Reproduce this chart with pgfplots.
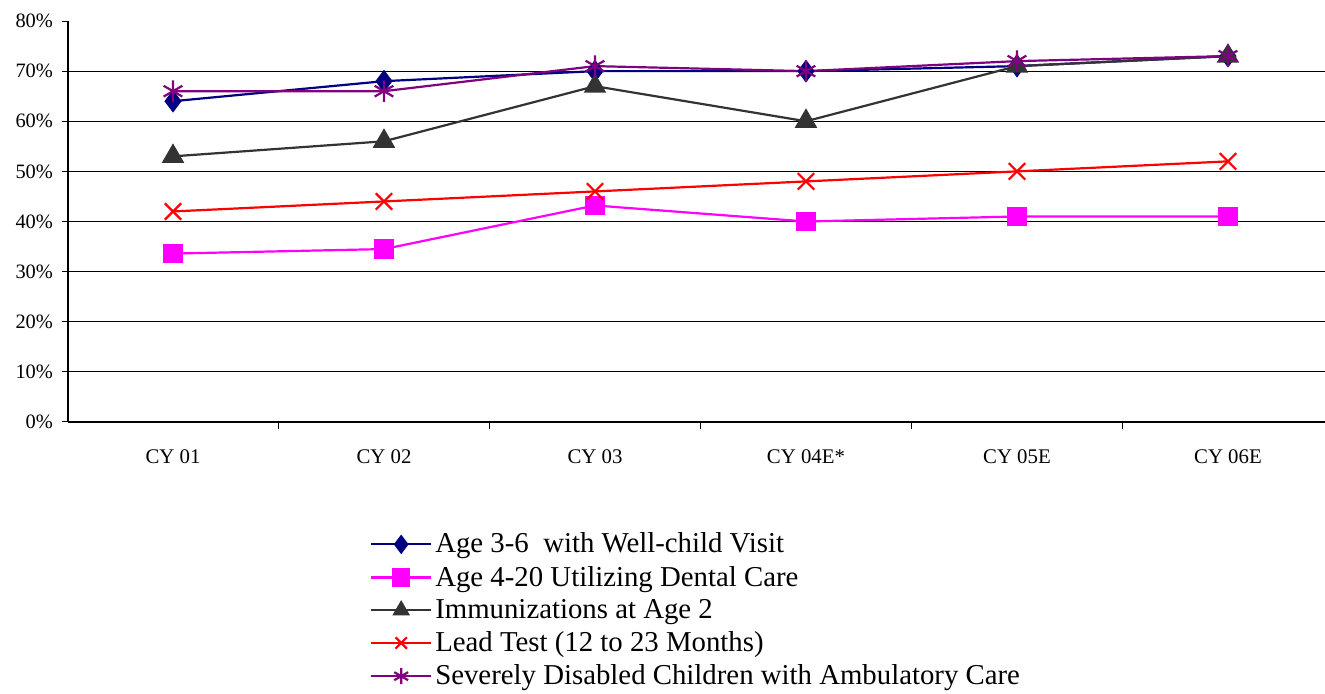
\documentclass[border=0pt]{standalone}
\usepackage{pgfplots}
\pgfplotsset{compat=1.18}
\usepackage{fontspec}
\setmainfont{Liberation Serif}
\definecolor{navyc}{RGB}{0,0,128}
\definecolor{magc}{RGB}{255,0,255}
\definecolor{darkc}{RGB}{51,51,51}
\definecolor{purpc}{RGB}{128,0,128}
\begin{document}
\begin{tikzpicture}
\useasboundingbox (0pt,0pt) rectangle (662.5pt,347pt);
\begin{axis}[
  at={(34pt,136pt)}, anchor=south west,
  scale only axis, width=628.5pt, height=200.5pt,
  xmin=-0.4976, xmax=5.46, ymin=0, ymax=80,
  axis x line*=bottom, axis y line*=left,
  axis line style={line width=0.6pt, -},
  xtick={0,1,2,3,4,5},
  xticklabels={CY 01,CY 02,CY 03,CY 04E*,CY 05E,CY 06E},
  xtick style={/pgfplots/major tick length=0pt},
  extra x ticks={0.5,1.5,2.5,3.5,4.5},
  extra x tick labels={},
  extra x tick style={xtick style={/pgfplots/major tick length=3.5pt}},
  tick align=outside,
  major tick length=3pt,
  tick style={black, line width=0.5pt},
  xticklabel style={font=\fontsize{10.4}{12}\selectfont, yshift=-7.5pt},
  ytick={0,10,...,80},
  yticklabels={0\%,10\%,20\%,30\%,40\%,50\%,60\%,70\%,80\%},
  yticklabel style={font=\fontsize{10.2}{12}\selectfont, xshift=-1pt},
  extra y ticks={10,20,...,70},
  extra y tick labels={},
  extra y tick style={grid=major, ytick style={/pgfplots/major tick length=0pt}},
  major grid style={black, line width=0.5pt},
  clip=false,
  legend style={
    at={(0.240,-0.268)}, anchor=north west, draw=none,
    font=\fontsize{14.4}{16}\selectfont,
    row sep=2.1pt, inner sep=0pt,
    nodes={inner sep=1.5pt},
  },
  legend cell align=left,
  legend image code/.code={
    \draw[mark repeat=2,mark phase=2,mark size=4pt] plot coordinates {(0pt,0pt) (15pt,0pt) (30pt,0pt)};
  },
  every axis plot/.append style={line width=1.1pt},
]
\addplot[color=navyc, mark=diamond*, mark size=4.8pt] coordinates {
  (0,64) (1,68) (2,70) (3,70) (4,71) (5,73)
};
\addlegendentry{Age 3-6\ \ with Well-child Visit}
\addplot[color=magc, mark=square*, mark size=4.3pt] coordinates {
  (0,33.6) (1,34.5) (2,43.2) (3,40) (4,41) (5,41)
};
\addlegendentry{Age 4-20 Utilizing Dental Care}
\addplot[color=darkc, mark=triangle*, mark size=5.4pt] coordinates {
  (0,53) (1,56) (2,67) (3,60) (4,71) (5,73)
};
\addlegendentry{Immunizations at Age 2}
\addplot[color=red, mark=x, mark size=5.8pt, mark options={line width=1.1pt}] coordinates {
  (0,42) (1,44) (2,46) (3,48) (4,50) (5,52)
};
\addlegendentry{Lead Test (12 to 23 Months)}
\addplot[color=purpc, mark=asterisk, mark size=5.4pt, mark options={line width=1.1pt}] coordinates {
  (0,66) (1,66) (2,71) (3,70) (4,72) (5,73)
};
\addlegendentry{Severely Disabled Children with Ambulatory Care}
\end{axis}
\end{tikzpicture}
\end{document}
